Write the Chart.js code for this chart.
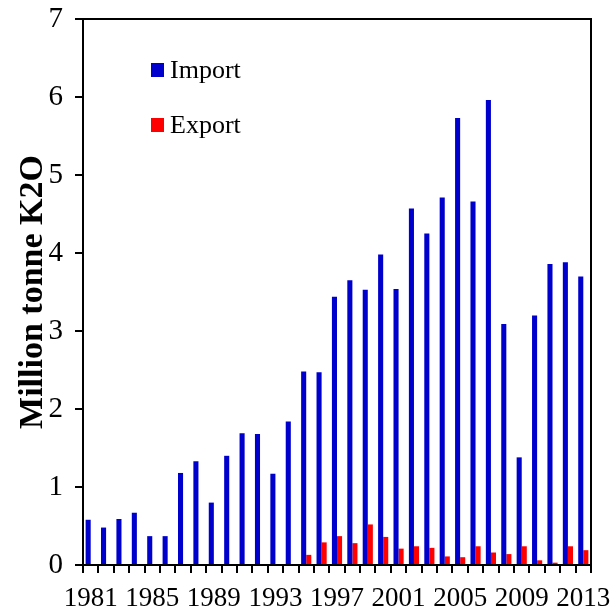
<!DOCTYPE html>
<html>
<head>
<meta charset="utf-8">
<script src="https://cdn.jsdelivr.net/npm/chart.js@4/dist/chart.umd.min.js"></script>
<style>
  html, body { margin: 0; padding: 0; background: #ffffff; }
  #wrap { width: 612px; height: 614px; position: relative; }
</style>
</head>
<body>
<div id="wrap"><canvas id="c"></canvas></div>
<script>
// Potash (K2O) trade, million tonnes, 1981-2013
const years = [];
for (let y = 1981; y <= 2013; y++) years.push(String(y));

const importValues = [
  0.58, 0.48, 0.59, 0.67, 0.37, 0.37, 1.18, 1.33, 0.80, 1.40,
  1.69, 1.68, 1.17, 1.84, 2.48, 2.47, 3.44, 3.65, 3.53, 3.98,
  3.54, 4.57, 4.25, 4.71, 5.73, 4.66, 5.96, 3.09, 1.38, 3.20,
  3.86, 3.88, 3.70
];
const exportValues = [
  0, 0, 0, 0, 0, 0, 0, 0, 0, 0,
  0, 0, 0, 0, 0.13, 0.29, 0.37, 0.28, 0.52, 0.36,
  0.21, 0.24, 0.22, 0.11, 0.10, 0.24, 0.16, 0.14, 0.24, 0.06,
  0.03, 0.24, 0.19
];
const yTickLabels = ['0', '1', '2', '3', '4', '5', '6', '7'];
const yTitle = 'Million tonne K2O';

const SERIF = '"Liberation Serif", "Times New Roman", serif';

// Frame on the top and right edges of the plot area
const framePlugin = {
  id: 'frame',
  afterDraw(chart) {
    const { ctx, chartArea: a } = chart;
    ctx.save();
    ctx.strokeStyle = '#000';
    ctx.lineWidth = 2;
    ctx.beginPath();
    ctx.moveTo(a.left, a.top);
    ctx.lineTo(a.right, a.top);
    ctx.lineTo(a.right, a.bottom);
    ctx.stroke();
    ctx.restore();
  }
};

// Legend drawn inside the plot area, top-left
const insideLegend = {
  id: 'insideLegend',
  afterDraw(chart) {
    const { ctx, chartArea: a } = chart;
    ctx.save();
    ctx.font = '26px ' + SERIF;
    ctx.textBaseline = 'middle';
    ctx.textAlign = 'left';
    chart.data.datasets.forEach((ds, i) => {
      const x = a.left + 68;
      const y = a.top + 51 + i * 55;
      ctx.fillStyle = ds.backgroundColor;
      ctx.fillRect(x, y - 7, 13, 14);
      ctx.fillStyle = '#000';
      ctx.fillText(ds.label, x + 19, y + 1);
    });
    ctx.restore();
  }
};

new Chart(document.getElementById('c'), {
  type: 'bar',
  data: {
    labels: years,
    datasets: [
      { label: 'Import', data: importValues, backgroundColor: '#0000cc',
        categoryPercentage: 0.66, barPercentage: 1.0 },
      { label: 'Export', data: exportValues, backgroundColor: '#ff0000',
        categoryPercentage: 0.66, barPercentage: 1.0 }
    ]
  },
  options: {
    responsive: true,
    maintainAspectRatio: false,
    animation: false,
    layout: { padding: { top: 19, right: 21, left: 0, bottom: 0 } },
    plugins: {
      legend: { display: false },
      tooltip: { enabled: false }
    },
    scales: {
      x: {
        offset: true,
        grid: {
          offset: true,
          drawOnChartArea: false,
          drawTicks: true,
          tickLength: 8,
          color: '#000',
          lineWidth: 2
        },
        border: { display: true, color: '#000', width: 2 },
        ticks: {
          autoSkip: false,
          maxRotation: 0,
          minRotation: 0,
          padding: 10,
          color: '#000',
          font: { family: SERIF, size: 27 },
          callback: function (value, index) {
            const yr = Number(years[index]);
            return (yr - 1981) % 4 === 0 ? years[index] : '';
          }
        },
        afterFit(scale) {
          scale.height = 49;
          scale.paddingLeft = 0;
          scale.paddingRight = 0;
        }
      },
      y: {
        min: 0,
        max: 7,
        ticks: {
          stepSize: 1,
          padding: 12,
          color: '#000',
          font: { family: SERIF, size: 29 },
          callback: (v) => yTickLabels[v]
        },
        grid: {
          drawOnChartArea: false,
          drawTicks: true,
          tickLength: 8,
          color: '#000',
          lineWidth: 2
        },
        border: { display: true, color: '#000', width: 2 },
        title: {
          display: true,
          text: yTitle,
          color: '#000',
          font: { family: SERIF, size: 34, weight: 'bold' },
          padding: { top: 13, bottom: 0 }
        },
        afterFit(scale) {
          scale.width = 83;
          scale.paddingTop = 0;
          scale.paddingBottom = 0;
        }
      }
    }
  },
  plugins: [framePlugin, insideLegend]
});
</script>
</body>
</html>
